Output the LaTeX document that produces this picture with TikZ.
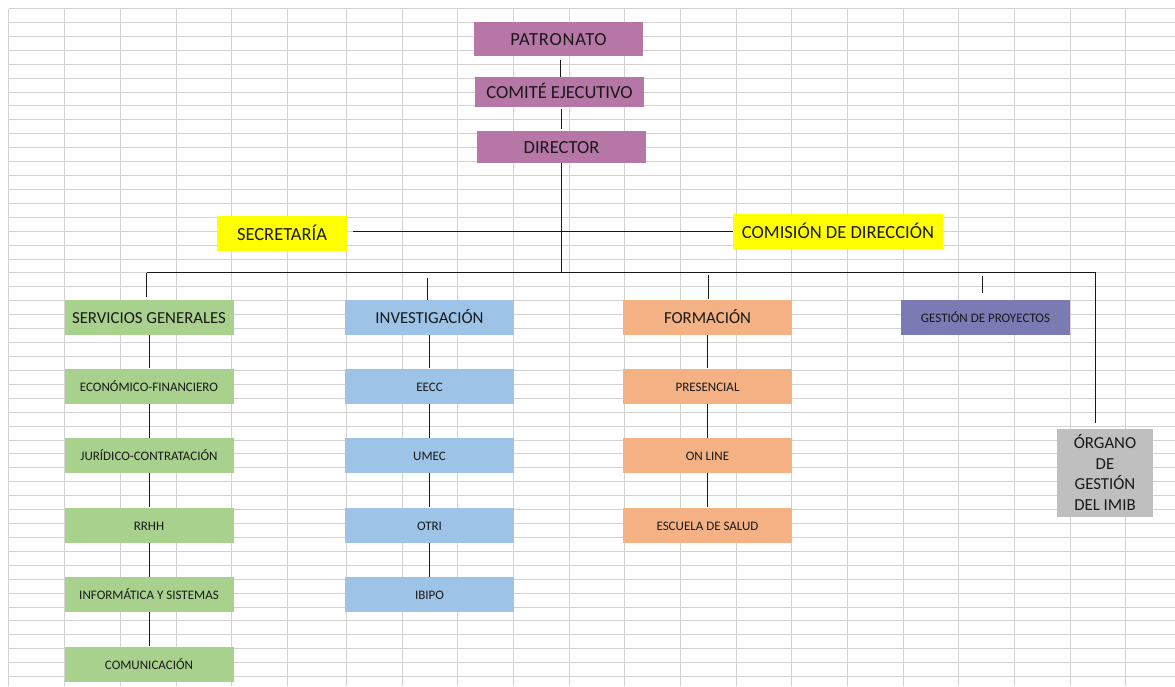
\documentclass[tikz,border=0pt]{standalone}
\usepackage{fontspec}
\setmainfont{Carlito}
\usetikzlibrary{calc}
\definecolor{gridc}{RGB}{210,210,210}
\definecolor{purp}{RGB}{182,119,167}
\definecolor{grn}{RGB}{169,209,142}
\definecolor{blu}{RGB}{157,195,230}
\definecolor{org}{RGB}{244,177,131}
\definecolor{slate}{RGB}{122,122,180}
\definecolor{gry}{RGB}{191,191,191}
\definecolor{yel}{RGB}{255,255,0}
\definecolor{ink}{RGB}{25,25,25}
\tikzset{
  gridline/.style={draw=gridc, line width=1.2pt},
  conn/.style={draw=ink, line width=1pt},
  box/.style={inner sep=0pt, align=center, text=ink, minimum width=169pt, minimum height=35pt},
  bigbox/.style={box, font=\fontsize{18.5}{22}\selectfont, text height=15pt, text depth=1.9pt},
  midbox/.style={box, font=\fontsize{16.8}{20}\selectfont, text height=14pt, text depth=1.8pt},
  smallbox/.style={box, font=\fontsize{13}{16}\selectfont, text height=12pt, text depth=1.2pt},
}
\begin{document}
\begin{tikzpicture}[x=1pt, y=-1pt]
\useasboundingbox (0,0) rectangle (1175,686);
\fill[white] (0,0) rectangle (1175,686);
% spreadsheet grid
\foreach \x in {8.5,64.5,120.5,176.5,231.5,287.5} {\draw[gridline] (\x,8.5) -- (\x,686);}
\foreach \i [evaluate=\i as \xx using {round(346+55.67*\i)+0.5}] in {0,...,14} {\draw[gridline] (\xx,8.5) -- (\xx,686);}
\foreach \i [evaluate=\i as \yy using {round(8+13.92*\i)+0.5}] in {0,...,48} {\draw[gridline] (8.5,\yy) -- (1175,\yy);}
% top chain
\node[bigbox, fill=purp, minimum height=34pt, font=\fontsize{18.5}{22}\selectfont\addfontfeatures{LetterSpace=4}] (pat) at (558.5,39) {PATRONATO};
\node[bigbox, fill=purp, minimum height=30pt] (com) at (559.5,92) {COMITÉ EJECUTIVO};
\node[bigbox, fill=purp, minimum height=32pt] (dir) at (561.5,147) {DIRECTOR};
\node[bigbox, fill=yel, minimum width=130pt] (sec) at (282,233.5) {SECRETARÍA};
\node[bigbox, fill=yel, minimum width=210pt] (cdd) at (838,231.5) {COMISIÓN DE DIRECCIÓN};
% second level
\node[midbox, fill=grn] (sg) at (149,317.5) {SERVICIOS GENERALES};
\node[midbox, fill=blu] (inv) at (429.5,317.5) {INVESTIGACIÓN};
\node[midbox, fill=org] (frm) at (707.5,317.5) {FORMACIÓN};
\node[smallbox, fill=slate] (gp) at (985.5,317.5) {GESTIÓN DE PROYECTOS};
\node[box, fill=gry, minimum width=96pt, minimum height=88pt, font=\fontsize{16.8}{20.5}\selectfont] (og) at (1105,472.5) {ÓRGANO\\DE\\GESTIÓN\\DEL IMIB};
% servicios generales
\node[smallbox, fill=grn] (sg1) at (149,386) {ECONÓMICO-FINANCIERO};
\node[smallbox, fill=grn] (sg2) at (149,455.5) {JURÍDICO-CONTRATACIÓN};
\node[smallbox, fill=grn] (sg3) at (149,525) {RRHH};
\node[smallbox, fill=grn] (sg4) at (149,594.5) {INFORMÁTICA Y SISTEMAS};
\node[smallbox, fill=grn] (sg5) at (149,664) {COMUNICACIÓN};
% investigacion
\node[smallbox, fill=blu] (in1) at (429.5,386) {EECC};
\node[smallbox, fill=blu] (in2) at (429.5,455.5) {UMEC};
\node[smallbox, fill=blu] (in3) at (429.5,525) {OTRI};
\node[smallbox, fill=blu] (in4) at (429.5,594.5) {IBIPO};
% formacion
\node[smallbox, fill=org] (fo1) at (707.5,386) {PRESENCIAL};
\node[smallbox, fill=org] (fo2) at (707.5,455.5) {ON LINE};
\node[smallbox, fill=org] (fo3) at (707.5,525) {ESCUELA DE SALUD};
% connectors
\coordinate (busL) at (146.5,272.5);
\coordinate (busR) at (1095.5,272.5);
\draw[conn] ($(pat.south)+(1.5,4)$) -- ($(com.north)+(0.5,0)$);
\draw[conn] ($(com.south)+(1.5,2)$) -- ($(dir.north)+(-0.5,-2)$);
\draw[conn] (dir.south) -- (dir.south |- busL);
\draw[conn] ($(sec.east |- cdd.west)+(6,0)$) -- (cdd.west);
\draw[conn] (busL) -- (busR);
\draw[conn] (busL) -- ($(busL |- sg.north)+(0,-3)$);
\draw[conn] ($(inv.north |- busL)+(-2.5,5)$) -- ($(inv.north)+(-2.5,0)$);
\draw[conn] ($(frm.north |- busL)+(0.5,2)$) -- ($(frm.north)+(0.5,-1)$);
\draw[conn] ($(gp.north |- busL)+(-3.5,3)$) -- ($(gp.north)+(-3.5,-7)$);
\draw[conn] (busR) -- ($(busR |- og.north)+(0,-5)$);
\draw[conn] (sg.south) -- (sg1.north);
\draw[conn] (sg1.south) -- (sg2.north);
\draw[conn] (sg2.south) -- (sg3.north);
\draw[conn] (sg3.south) -- (sg4.north);
\draw[conn] (sg4.south) -- (sg5.north);
\draw[conn] (inv.south) -- (in1.north);
\draw[conn] (in1.south) -- (in2.north);
\draw[conn] (in2.south) -- (in3.north);
\draw[conn] (in3.south) -- (in4.north);
\draw[conn] (frm.south) -- (fo1.north);
\draw[conn] (fo1.south) -- (fo2.north);
\draw[conn] (fo2.south) -- (fo3.north);
\end{tikzpicture}
\end{document}
